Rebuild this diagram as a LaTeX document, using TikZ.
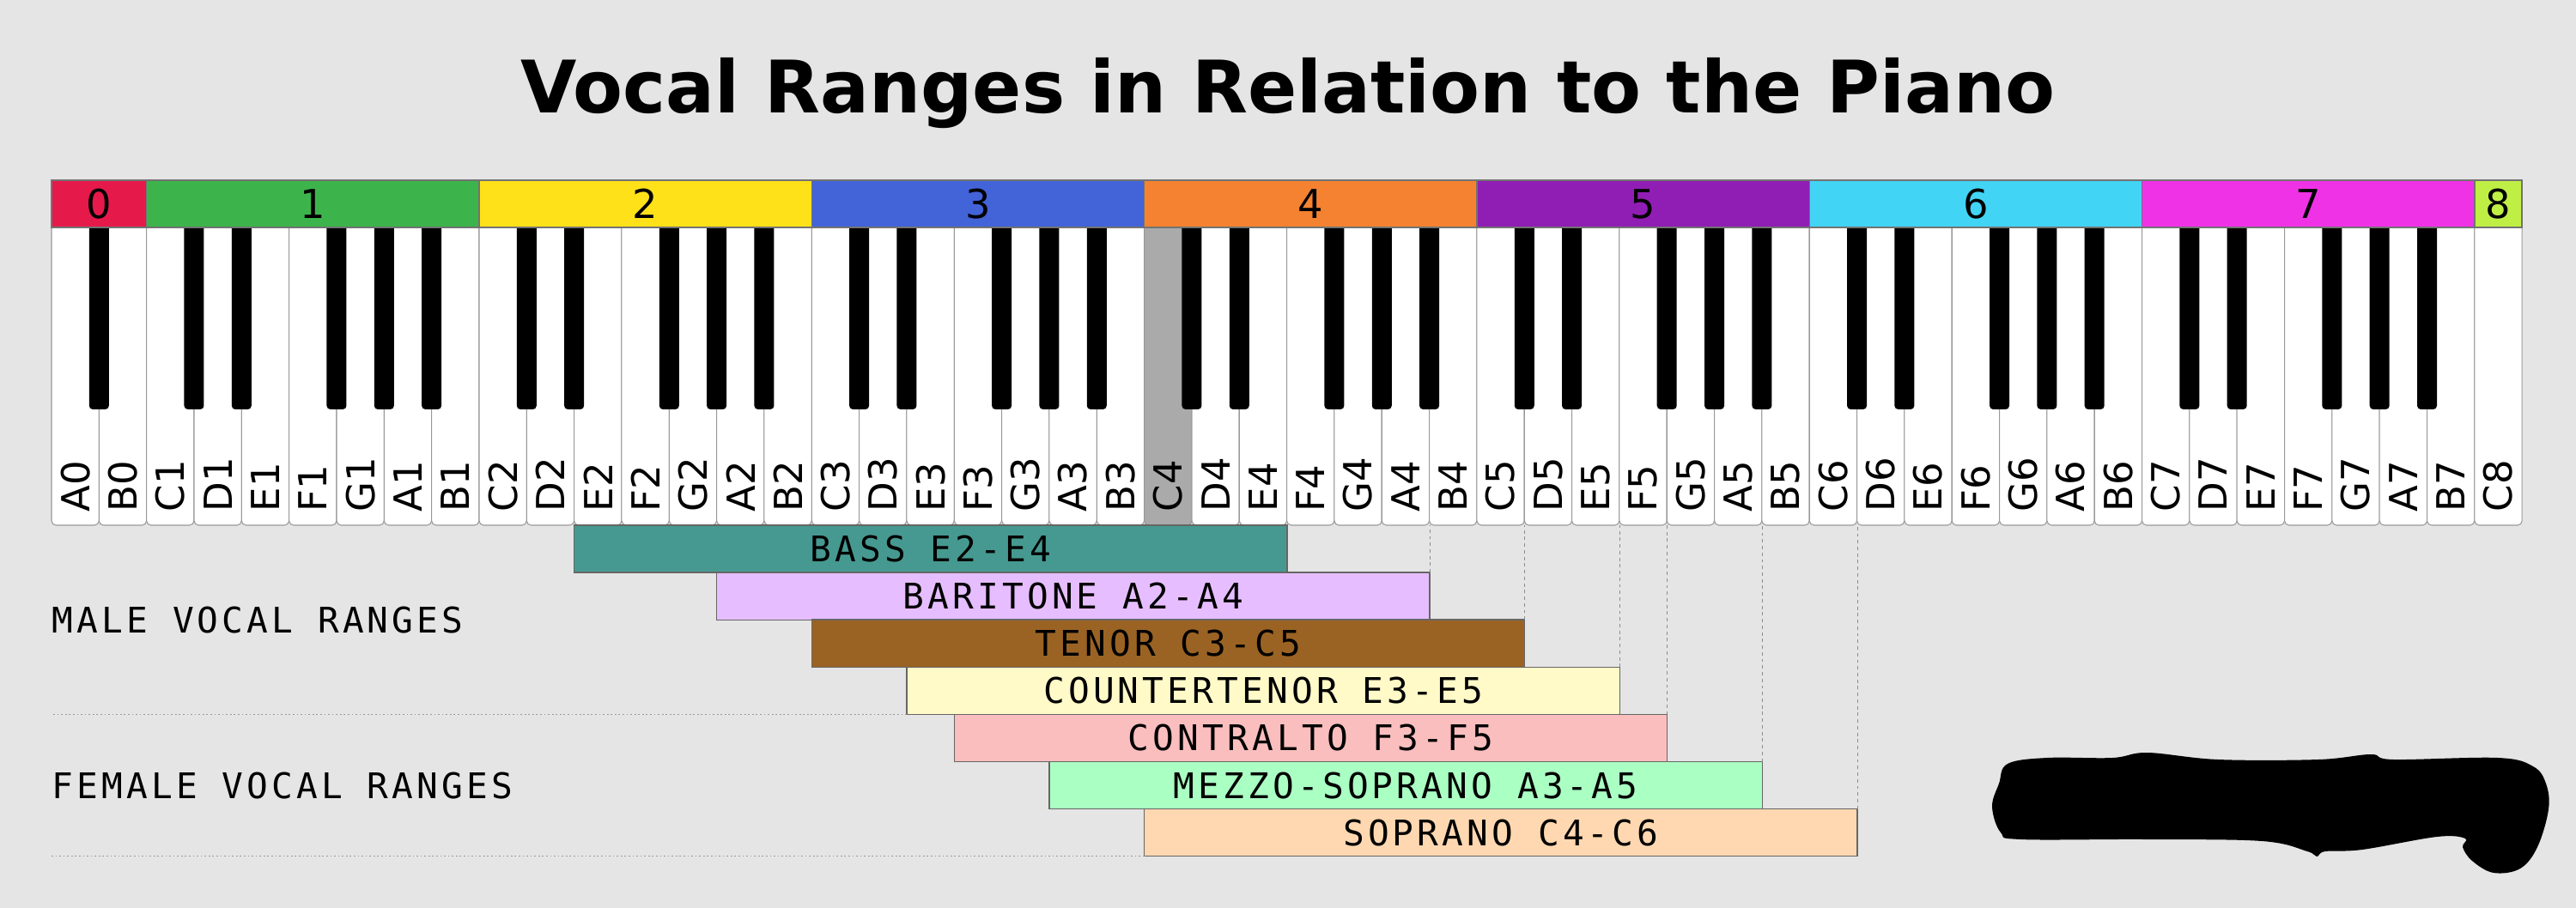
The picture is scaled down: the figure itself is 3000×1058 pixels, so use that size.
\documentclass[tikz,border=0pt]{standalone}
\usepackage{fontspec}
\setmainfont{DejaVu Sans}
\newfontfamily\monofont{DejaVu Sans Mono}[LetterSpace=10]
\usetikzlibrary{positioning}

\definecolor{bg}{HTML}{E5E5E5}
\definecolor{cfour}{HTML}{AAAAAA}
\definecolor{oct0}{HTML}{E6194B}
\definecolor{oct1}{HTML}{3CB44B}
\definecolor{oct2}{HTML}{FFE119}
\definecolor{oct3}{HTML}{4363D8}
\definecolor{oct4}{HTML}{F58231}
\definecolor{oct5}{HTML}{911EB4}
\definecolor{oct6}{HTML}{42D4F4}
\definecolor{oct7}{HTML}{F032E6}
\definecolor{oct8}{HTML}{BFEF45}
\definecolor{rbass}{HTML}{469990}
\definecolor{rbaritone}{HTML}{E6BEFF}
\definecolor{rtenor}{HTML}{9A6324}
\definecolor{rcounter}{HTML}{FFFAC8}
\definecolor{rcontralto}{HTML}{FABEBE}
\definecolor{rmezzo}{HTML}{AAFFC3}
\definecolor{rsoprano}{HTML}{FFD8B1}

\tikzset{
  whitekey/.style={fill=white, draw=black!40, line width=0.3pt, rounded corners=1.5pt},
  blackkey/.style={fill=black, rounded corners=1.2pt},
  octbar/.style={draw=black!55, line width=0.4pt},
  octnum/.style={font=\fontsize{13.2}{15}\selectfont, inner sep=0},
  keylbl/.style={font=\fontsize{12.8}{15}\selectfont, rotate=90, anchor=west, inner sep=0},
  rangebar/.style={draw=black!60, line width=0.4pt, minimum height=0.551cm, inner sep=0,
    outer sep=0, anchor=north west, font=\monofont\fontsize{11.7}{14}\selectfont},
  sidelbl/.style={font=\monofont\fontsize{11.7}{14}\selectfont, inner sep=0, anchor=base west},
  guide/.style={draw=black!45, line width=0.3pt, dash pattern=on 1.1pt off 1.1pt},
  sepline/.style={draw=black!40, line width=0.4pt, dash pattern=on 0.5pt off 0.8pt}
}

\begin{document}
\begin{tikzpicture}[x=0.01cm, y=-0.01cm]
  \fill[bg] (0,0) rectangle (3000,1058);
  \useasboundingbox (0,0) rectangle (3000,1058);

  \node[font=\bfseries\fontsize{24}{30}\selectfont, anchor=base] (title) at (1500,132) {Vocal Ranges in Relation to the Piano};

  % white keys
  \foreach \i in {0,...,51}
    \draw[whitekey] ({60+\i*55.33},250) -- ({60+\i*55.33},612) -- ({60+(\i+1)*55.33},612) -- ({60+(\i+1)*55.33},250) -- cycle;
  \draw[whitekey, fill=cfour] ({60+23*55.33},250) -- ({60+23*55.33},612) -- ({60+24*55.33},612) -- ({60+24*55.33},250) -- cycle;

  % black keys
  \fill[blackkey] ({60+55.33-11.5},255) rectangle ({60+55.33+11.5},477);
  \foreach \o in {0,...,6}
    \foreach \k in {0,1,3,4,5}
      \fill[blackkey] ({60+(2+7*\o+\k+1)*55.33-11.5},255) -- ({60+(2+7*\o+\k+1)*55.33-11.5},477)
        -- ({60+(2+7*\o+\k+1)*55.33+11.5},477) -- ({60+(2+7*\o+\k+1)*55.33+11.5},255) -- cycle;

  % octave bar
  \foreach \o/\s/\n in {0/0/2, 1/2/7, 2/9/7, 3/16/7, 4/23/7, 5/30/7, 6/37/7, 7/44/7, 8/51/1} {
    \draw[octbar, fill=oct\o] ({60+\s*55.33},210) rectangle ({60+(\s+\n)*55.33},265);
    \node[octnum] (oct\o) at ({60+(\s+\n/2)*55.33},237.5) {\o};
  }

  % note names
  \foreach \lbl [count=\i from 0] in {A0,B0,C1,D1,E1,F1,G1,A1,B1,C2,D2,E2,F2,G2,A2,B2,
      C3,D3,E3,F3,G3,A3,B3,C4,D4,E4,F4,G4,A4,B4,C5,D5,E5,F5,G5,A5,B5,
      C6,D6,E6,F6,G6,A6,B6,C7,D7,E7,F7,G7,A7,B7,C8}
    \node[keylbl] (key\lbl) at ({60+(\i+0.5)*55.33},597) {\lbl};

  \coordinate (kb) at (0,612);

  % vocal ranges
  \foreach \nm/\s/\txt [count=\r from 0] in {bass/11/BASS E2-E4, baritone/14/BARITONE A2-A4,
      tenor/16/TENOR C3-C5, counter/18/COUNTERTENOR E3-E5, contralto/19/CONTRALTO F3-F5,
      mezzo/21/MEZZO-SOPRANO A3-A5, soprano/23/SOPRANO C4-C6}
    \node[rangebar, fill=r\nm, minimum width=15*0.5533cm] (\nm) at ({60+\s*55.33},{612+\r*55.1}) {\txt};

  \foreach \nm in {baritone,tenor,counter,contralto,mezzo,soprano}
    \draw[guide] (\nm.north east) -- (\nm.north east |- kb);

  \node[sidelbl] (male) at (60,737) {MALE VOCAL RANGES};
  \node[sidelbl] (female) at (60,930) {FEMALE VOCAL RANGES};
  \draw[sepline] (counter.south west) -- (counter.south west -| male.west);
  \draw[sepline] (soprano.south west) -- (soprano.south west -| female.west);

  % blot
  \fill[black] plot[smooth cycle, tension=0.6] coordinates {(2338,890) (2384,883) (2460,883) (2501,877)
    (2583,885) (2700,885) (2761,879) (2787,885) (2909,883) (2950,893) (2965,913) (2968,943)
    (2955,987) (2935,1012) (2904,1017) (2879,1003) (2868,987) (2871,977) (2838,975) (2751,990)
    (2708,992) (2698,998) (2687,992) (2634,980) (2496,978) (2353,978) (2330,970) (2320,940) (2328,913)};
\end{tikzpicture}
\end{document}
